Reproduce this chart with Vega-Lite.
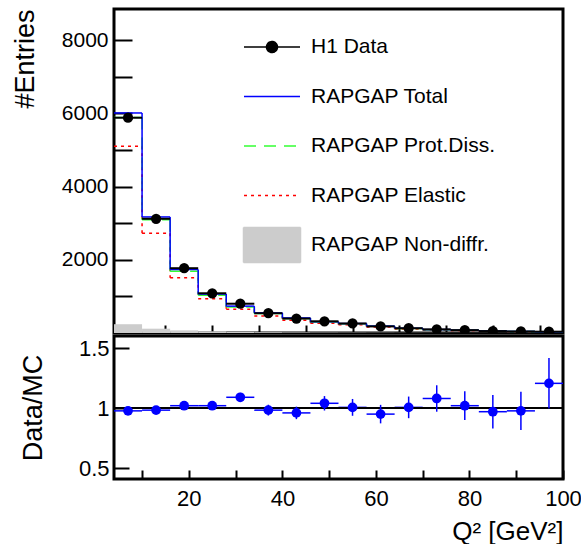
{
  "$schema": "https://vega.github.io/schema/vega-lite/v6.json",
  "background": "white",
  "padding": {"left": 9, "top": 7, "right": 5, "bottom": 2},
  "spacing": -3,
  "datasets": {
    "h": [
      {"lo": 4, "hi": 10, "q2": 7, "data": 5880, "total": 6010, "pd": 5885, "el": 5100, "nd": 240, "ratio": 0.977, "rerr": 0.015},
      {"lo": 10, "hi": 16, "q2": 13, "data": 3120, "total": 3170, "pd": 3090, "el": 2725, "nd": 118, "ratio": 0.983, "rerr": 0.02},
      {"lo": 16, "hi": 22, "q2": 19, "data": 1770, "total": 1735, "pd": 1685, "el": 1510, "nd": 72, "ratio": 1.02, "rerr": 0.025},
      {"lo": 22, "hi": 28, "q2": 25, "data": 1085, "total": 1064, "pd": 1030, "el": 937, "nd": 45, "ratio": 1.02, "rerr": 0.03},
      {"lo": 28, "hi": 34, "q2": 31, "data": 800, "total": 734, "pd": 712, "el": 647, "nd": 30, "ratio": 1.09, "rerr": 0.037},
      {"lo": 34, "hi": 40, "q2": 37, "data": 540, "total": 549, "pd": 532, "el": 465, "nd": 22, "ratio": 0.983, "rerr": 0.045},
      {"lo": 40, "hi": 46, "q2": 43, "data": 395, "total": 411, "pd": 398, "el": 350, "nd": 16, "ratio": 0.96, "rerr": 0.052},
      {"lo": 46, "hi": 52, "q2": 49, "data": 320, "total": 308, "pd": 298, "el": 265, "nd": 12, "ratio": 1.04, "rerr": 0.06},
      {"lo": 52, "hi": 58, "q2": 55, "data": 260, "total": 258, "pd": 250, "el": 222, "nd": 10, "ratio": 1.006, "rerr": 0.07},
      {"lo": 58, "hi": 64, "q2": 61, "data": 180, "total": 189, "pd": 182, "el": 162, "nd": 8, "ratio": 0.95, "rerr": 0.077},
      {"lo": 64, "hi": 70, "q2": 67, "data": 130, "total": 129, "pd": 124, "el": 110, "nd": 6, "ratio": 1.006, "rerr": 0.09},
      {"lo": 70, "hi": 76, "q2": 73, "data": 100, "total": 93, "pd": 89, "el": 80, "nd": 5, "ratio": 1.08, "rerr": 0.11},
      {"lo": 76, "hi": 82, "q2": 79, "data": 78, "total": 76, "pd": 73, "el": 65, "nd": 4, "ratio": 1.02, "rerr": 0.12},
      {"lo": 82, "hi": 88, "q2": 85, "data": 52, "total": 54, "pd": 52, "el": 46, "nd": 3, "ratio": 0.97, "rerr": 0.14},
      {"lo": 88, "hi": 94, "q2": 91, "data": 42, "total": 43, "pd": 41, "el": 37, "nd": 3, "ratio": 0.977, "rerr": 0.16},
      {"lo": 94, "hi": 100, "q2": 97, "data": 36, "total": 30, "pd": 29, "el": 26, "nd": 2, "ratio": 1.206, "rerr": 0.21}
    ]
  },
  "vconcat": [
    {
      "width": 449,
      "height": 324,
      "data": {"name": "h"},
      "transform": [
        {"window": [
          {"op": "lead", "field": "total", "as": "total_next"},
          {"op": "lead", "field": "pd", "as": "pd_next"},
          {"op": "lead", "field": "el", "as": "el_next"}
        ], "sort": [{"field": "lo", "order": "ascending"}]}
      ],
      "layer": [
        {
          "mark": {"type": "rect"},
          "encoding": {
            "x": {"field": "lo", "type": "quantitative", "title": null, "scale": {"domain": [4, 100], "nice": false, "zero": false},
              "axis": {"title": null, "labels": false, "values": [5,10,15,20,25,30,35,40,45,50,55,60,65,70,75,80,85,90,95,100],
                "tickSize": -8,
                "encode": {"ticks": {"update": {"y2": {"signal": "datum.value % 20 === 0 ? -8 : -4"}}}}}},
            "x2": {"field": "hi"},
            "y": {"field": "nd", "type": "quantitative", "title": "#Entries", "scale": {"domain": [0, 8850], "nice": false, "zero": false},
              "axis": {"title": "#Entries", "values": [1000,1500,2000,2500,3000,3500,4000,4500,5000,5500,6000,6500,7000,7500,8000,8500],
                "format": "d", "labelExpr": "datum.value % 2000 === 0 ? datum.label : ''",
                "labelFontSize": 21, "labelPadding": 24, "labelOverlap": false, "labelFlush": false,
                "tickSize": -18,
                "encode": {"ticks": {"update": {"x2": {"signal": "datum.value % 2000 === 0 ? 18 : 9"}}}},
                "titleFontSize": 27, "titleAnchor": "end", "titleX": -89, "titleBaseline": "middle"}},
            "y2": {"datum": 0},
            "color": {"datum": "RAPGAP Non-diffr.",
              "scale": {"domain": ["H1 Data", "RAPGAP Total", "RAPGAP Prot.Diss.", "RAPGAP Elastic", "RAPGAP Non-diffr."], "range": ["black", "blue", "#33ff33", "red", "#cccccc"]},
              "legend": {
                "orient": "none", "legendX": 147, "legendY": 27, "title": null, "padding": 0,
                "symbolSize": 400, "symbolStrokeWidth": 1.5,
                "labelFont": "Liberation Sans", "labelFontSize": 21, "labelColor": "black", "labelLimit": 400,
                "labelOffset": 28, "rowPadding": 7.5,
                "encode": {
                  "symbols": {
                    "update": {
                      "shape": {"signal": "datum.value === 'H1 Data' ? 'M0,-1.75M0,1.75M-2.8,0H2.8M-0.55,0A0.55,0.55,0,1,0,0.55,0A0.55,0.55,0,1,0,-0.55,0Z' : datum.value === 'RAPGAP Non-diffr.' ? 'M-2.85,-1.75H2.85V1.75H-2.85Z' : 'M0,-1.75M0,1.75M-2.8,0H2.8'"},
                      "fill": {"signal": "datum.value === 'H1 Data' ? 'black' : datum.value === 'RAPGAP Non-diffr.' ? '#cccccc' : 'transparent'"},
                      "stroke": {"signal": "datum.value === 'H1 Data' ? '#555555' : datum.value === 'RAPGAP Total' ? 'blue' : datum.value === 'RAPGAP Prot.Diss.' ? '#33ff33' : datum.value === 'RAPGAP Elastic' ? 'red' : 'transparent'"},
                      "strokeDash": {"signal": "datum.value === 'RAPGAP Prot.Diss.' ? [12, 8] : datum.value === 'RAPGAP Elastic' ? [3, 4] : [1, 0]"},
                      "opacity": {"value": 1},
                      "fillOpacity": {"value": 1},
                      "strokeOpacity": {"value": 1}
                    }
                  }
                }
              }
            }
          }
        },
        {
          "mark": {"type": "rule", "strokeWidth": 1.5, "strokeDash": [3, 4]},
          "encoding": {
            "x": {"field": "lo", "type": "quantitative", "title": null, "scale": {"domain": [4, 100], "nice": false, "zero": false}},
            "x2": {"field": "hi"},
            "y": {"field": "el", "type": "quantitative", "title": "#Entries", "scale": {"domain": [0, 8850], "nice": false, "zero": false}},
            "color": {"datum": "RAPGAP Elastic"}
          }
        },
        {
          "transform": [{"filter": "datum.hi < 100"}],
          "mark": {"type": "rule", "strokeWidth": 1.5, "strokeDash": [3, 4]},
          "encoding": {
            "x": {"field": "hi", "type": "quantitative", "title": null, "scale": {"domain": [4, 100], "nice": false, "zero": false}},
            "y": {"field": "el", "type": "quantitative", "title": "#Entries", "scale": {"domain": [0, 8850], "nice": false, "zero": false}},
            "y2": {"field": "el_next"},
            "color": {"datum": "RAPGAP Elastic"}
          }
        },
        {
          "mark": {"type": "rule", "strokeWidth": 1.5, "strokeDash": [12, 8]},
          "encoding": {
            "x": {"field": "lo", "type": "quantitative", "title": null, "scale": {"domain": [4, 100], "nice": false, "zero": false}},
            "x2": {"field": "hi"},
            "y": {"field": "pd", "type": "quantitative", "title": "#Entries", "scale": {"domain": [0, 8850], "nice": false, "zero": false}},
            "color": {"datum": "RAPGAP Prot.Diss."}
          }
        },
        {
          "transform": [{"filter": "datum.hi < 100"}],
          "mark": {"type": "rule", "strokeWidth": 1.5, "strokeDash": [12, 8]},
          "encoding": {
            "x": {"field": "hi", "type": "quantitative", "title": null, "scale": {"domain": [4, 100], "nice": false, "zero": false}},
            "y": {"field": "pd", "type": "quantitative", "title": "#Entries", "scale": {"domain": [0, 8850], "nice": false, "zero": false}},
            "y2": {"field": "pd_next"},
            "color": {"datum": "RAPGAP Prot.Diss."}
          }
        },
        {
          "mark": {"type": "rule", "strokeWidth": 1.5},
          "encoding": {
            "x": {"field": "lo", "type": "quantitative", "title": null, "scale": {"domain": [4, 100], "nice": false, "zero": false}},
            "x2": {"field": "hi"},
            "y": {"field": "total", "type": "quantitative", "title": "#Entries", "scale": {"domain": [0, 8850], "nice": false, "zero": false}},
            "color": {"datum": "RAPGAP Total"}
          }
        },
        {
          "transform": [{"filter": "datum.hi < 100"}],
          "mark": {"type": "rule", "strokeWidth": 1.5},
          "encoding": {
            "x": {"field": "hi", "type": "quantitative", "title": null, "scale": {"domain": [4, 100], "nice": false, "zero": false}},
            "y": {"field": "total", "type": "quantitative", "title": "#Entries", "scale": {"domain": [0, 8850], "nice": false, "zero": false}},
            "y2": {"field": "total_next"},
            "color": {"datum": "RAPGAP Total"}
          }
        },
        {
          "mark": {"type": "rule", "strokeWidth": 2},
          "encoding": {
            "x": {"field": "lo", "type": "quantitative", "title": null, "scale": {"domain": [4, 100], "nice": false, "zero": false}},
            "x2": {"field": "hi"},
            "y": {"field": "data", "type": "quantitative", "title": "#Entries", "scale": {"domain": [0, 8850], "nice": false, "zero": false}},
            "color": {"datum": "H1 Data"}
          }
        },
        {
          "mark": {"type": "point", "filled": true, "size": 105, "opacity": 1, "clip": true},
          "encoding": {
            "x": {"field": "q2", "type": "quantitative", "title": null, "scale": {"domain": [4, 100], "nice": false, "zero": false}},
            "y": {"field": "data", "type": "quantitative", "title": "#Entries", "scale": {"domain": [0, 8850], "nice": false, "zero": false}},
            "color": {"datum": "H1 Data"}
          }
        }
      ]
    },
    {
      "width": 449,
      "height": 143,
      "data": {"name": "h"},
      "layer": [
        {
          "mark": {"type": "rule", "color": "blue", "strokeWidth": 1.5},
          "encoding": {
            "x": {"field": "lo", "type": "quantitative", "title": "Q² [GeV²]", "scale": {"domain": [4, 100], "nice": false, "zero": false},
              "axis": {"title": "Q² [GeV²]", "values": [10,15,20,25,30,35,40,45,50,55,60,65,70,75,80,85,90,95,100],
                "format": "d", "labelExpr": "datum.value % 20 === 0 ? datum.label : ''",
                "labelFontSize": 22, "labelPadding": 18, "labelOverlap": false, "labelFlush": false,
                "tickSize": -9,
                "encode": {"ticks": {"update": {"y2": {"signal": "datum.value % 20 === 0 ? -9 : -4"}}}},
                "titleFontSize": 26, "titleAnchor": "end", "titleY": 60, "titleBaseline": "alphabetic"}},
            "x2": {"field": "hi"},
            "y": {"field": "ratio", "type": "quantitative", "title": "Data/MC", "scale": {"domain": [0.41, 1.6], "nice": false, "zero": false},
              "axis": {"title": "Data/MC", "values": [0.5,0.6,0.7,0.8,1,1.1,1.2,1.3,1.5],
                "labelExpr": "abs(datum.value*2 - round(datum.value*2)) < 0.001 ? format(datum.value, '~g') : ''",
                "labelFontSize": 22, "labelPadding": 20, "labelOverlap": false, "labelFlush": false,
                "tickSize": -15,
                "encode": {"ticks": {"update": {"x2": {"signal": "abs(datum.value*2 - round(datum.value*2)) < 0.001 ? 15 : 8"}}}},
                "titleFontSize": 27, "titleX": -81, "titleBaseline": "middle"}}
          }
        },
        {
          "mark": {"type": "rule", "color": "black", "strokeWidth": 1},
          "encoding": {
            "y": {"datum": 1, "type": "quantitative", "title": "Data/MC", "scale": {"domain": [0.41, 1.6], "nice": false, "zero": false}}
          }
        },
        {
          "mark": {"type": "errorbar", "color": "blue", "thickness": 1.5},
          "encoding": {
            "x": {"field": "q2", "type": "quantitative", "title": "Q² [GeV²]", "scale": {"domain": [4, 100], "nice": false, "zero": false}},
            "y": {"field": "ratio", "type": "quantitative", "title": "Data/MC", "scale": {"domain": [0.41, 1.6], "nice": false, "zero": false}},
            "yError": {"field": "rerr"}
          }
        },
        {
          "mark": {"type": "point", "filled": true, "color": "blue", "size": 95, "opacity": 1},
          "encoding": {
            "x": {"field": "q2", "type": "quantitative", "title": "Q² [GeV²]", "scale": {"domain": [4, 100], "nice": false, "zero": false}},
            "y": {"field": "ratio", "type": "quantitative", "title": "Data/MC", "scale": {"domain": [0.41, 1.6], "nice": false, "zero": false}}
          }
        }
      ]
    }
  ],
  "resolve": {"legend": {"color": "independent"}, "scale": {"color": "independent"}},
  "config": {
    "font": "Liberation Sans",
    "view": {"stroke": "black", "strokeWidth": 3},
    "axis": {"domain": false, "grid": false, "labelFont": "Liberation Sans", "titleFont": "Liberation Sans",
      "labelColor": "black", "titleColor": "black", "tickColor": "black", "tickWidth": 2, "titleFontWeight": "normal", "labelOverlap": false}
  }
}
